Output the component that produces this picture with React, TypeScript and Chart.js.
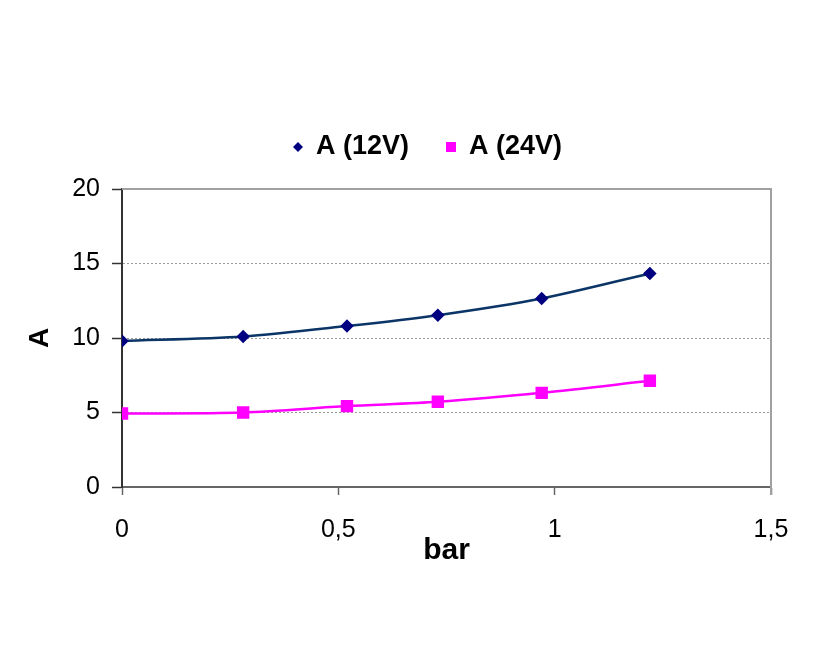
import React, { useEffect, useRef } from 'react';
import { Chart, registerables } from 'chart.js';

Chart.register(...registerables);

// ---- data ----
const pressureBar = [0, 0.28, 0.52, 0.73, 0.97, 1.22];
const current12V = [9.8, 10.1, 10.8, 11.53, 12.65, 14.33];
const current24V = [4.93, 5.0, 5.43, 5.72, 6.32, 7.13];
const seriesLabels = ['A (12V)', 'A (24V)'];
const xAxisTitle = 'bar';
const yAxisTitle = 'A';
const xTickValues = [0, 0.5, 1, 1.5];
const yTickValues = [0, 5, 10, 15, 20];

const FONT = '"Liberation Sans", Arial, Helvetica, sans-serif';

const plotBorderPlugin = {
  id: 'plotBorder',
  beforeDatasetsDraw(chart: any) {
    const { ctx, chartArea } = chart;
    ctx.save();
    ctx.strokeStyle = '#a0a0a0';
    ctx.lineWidth = 2;
    ctx.setLineDash([]);
    ctx.beginPath();
    ctx.moveTo(chartArea.left, chartArea.top);
    ctx.lineTo(chartArea.right, chartArea.top);
    ctx.lineTo(chartArea.right, chartArea.bottom + 8);
    ctx.stroke();
    ctx.restore();
  },
};

const legendPlugin = {
  id: 'excelLegend',
  afterDraw(chart: any) {
    const { ctx, chartArea } = chart;
    ctx.save();
    ctx.font = `bold 27px ${FONT}`;
    ctx.textBaseline = 'middle';
    ctx.textAlign = 'left';
    const y = chartArea.top - 42;
    const markerOffsets = [176, 329];
    chart.data.datasets.forEach((ds: any, i: number) => {
      const mx = chartArea.left + markerOffsets[i];
      ctx.fillStyle = ds.pointBackgroundColor;
      ctx.beginPath();
      if (ds.pointStyle === 'rectRot') {
        ctx.moveTo(mx, y - 5);
        ctx.lineTo(mx + 5, y);
        ctx.lineTo(mx, y + 5);
        ctx.lineTo(mx - 5, y);
        ctx.closePath();
        ctx.fill();
      } else {
        ctx.fillRect(mx - 5, y - 5, 10, 10);
      }
      ctx.fillStyle = '#000';
      ctx.fillText(ds.label, mx + 18, y);
    });
    ctx.restore();
  },
};

export default function App() {
  const canvasRef = useRef<HTMLCanvasElement | null>(null);

  useEffect(() => {
    if (!canvasRef.current) return;
    const chart = new Chart(canvasRef.current, {
      type: 'line',
      data: {
        datasets: [
          {
            label: seriesLabels[0],
            data: pressureBar.map((x, i) => ({ x, y: current12V[i] })),
            borderColor: '#0b3566',
            backgroundColor: '#000080',
            pointBackgroundColor: '#000080',
            pointBorderColor: '#000080',
            pointStyle: 'rectRot',
            pointRadius: 5,
            borderWidth: 2.5,
            tension: 0.3,
            fill: false,
          },
          {
            label: seriesLabels[1],
            data: pressureBar.map((x, i) => ({ x, y: current24V[i] })),
            borderColor: '#ff00ff',
            backgroundColor: '#ff00ff',
            pointBackgroundColor: '#ff00ff',
            pointBorderColor: '#ff00ff',
            pointStyle: 'rect',
            pointRadius: 7,
            borderWidth: 2.5,
            tension: 0.3,
            fill: false,
          },
        ],
      },
      options: {
        responsive: false,
        animation: false,
        layout: { padding: { left: 0, right: 53, top: 189, bottom: 0 } },
        plugins: {
          legend: { display: false },
          tooltip: { enabled: false },
        },
        scales: {
          x: {
            type: 'linear',
            min: 0,
            max: 1.5,
            afterBuildTicks: (scale: any) => {
              scale.ticks = xTickValues.map((v) => ({ value: v }));
            },
            afterFit: (scale: any) => {
              scale.height = 167;
            },
            ticks: {
              font: { family: FONT, size: 25 },
              color: '#000',
              padding: 20,
              maxRotation: 0,
              callback: (v: any) => String(v).replace('.', ','),
            },
            grid: {
              drawOnChartArea: false,
              drawTicks: true,
              tickLength: 8,
              tickColor: '#666',
              tickWidth: 1.5,
            },
            border: { display: true, color: '#666', width: 2 },
            title: {
              display: true,
              text: xAxisTitle,
              font: { family: FONT, size: 30, weight: 'bold' },
              color: '#000',
              padding: { top: 0, bottom: 85 },
            },
          },
          y: {
            min: 0,
            max: 20,
            afterBuildTicks: (scale: any) => {
              scale.ticks = yTickValues.map((v) => ({ value: v }));
            },
            afterFit: (scale: any) => {
              scale.width = 122;
            },
            ticks: {
              font: { family: FONT, size: 25 },
              color: '#000',
              padding: 12,
            },
            grid: {
              drawOnChartArea: true,
              color: '#9a9a9a',
              lineWidth: 1,
              drawTicks: true,
              tickLength: 10,
              tickColor: '#333',
              tickWidth: 1.5,
              tickBorderDash: [],
            },
            border: { display: true, color: '#333', width: 2, dash: [2, 2] },
            title: {
              display: true,
              text: yAxisTitle,
              font: { family: FONT, size: 28, weight: 'bold' },
              color: '#000',
              padding: { top: 23, bottom: 0 },
            },
          },
        },
      },
      plugins: [plotBorderPlugin, legendPlugin],
    } as any);
    return () => chart.destroy();
  }, []);

  return (
    <div style={{ position: 'absolute', left: 0, top: 0, width: 824, height: 654, background: '#fff' }}>
      <canvas ref={canvasRef} width={824} height={654} />
    </div>
  );
}
